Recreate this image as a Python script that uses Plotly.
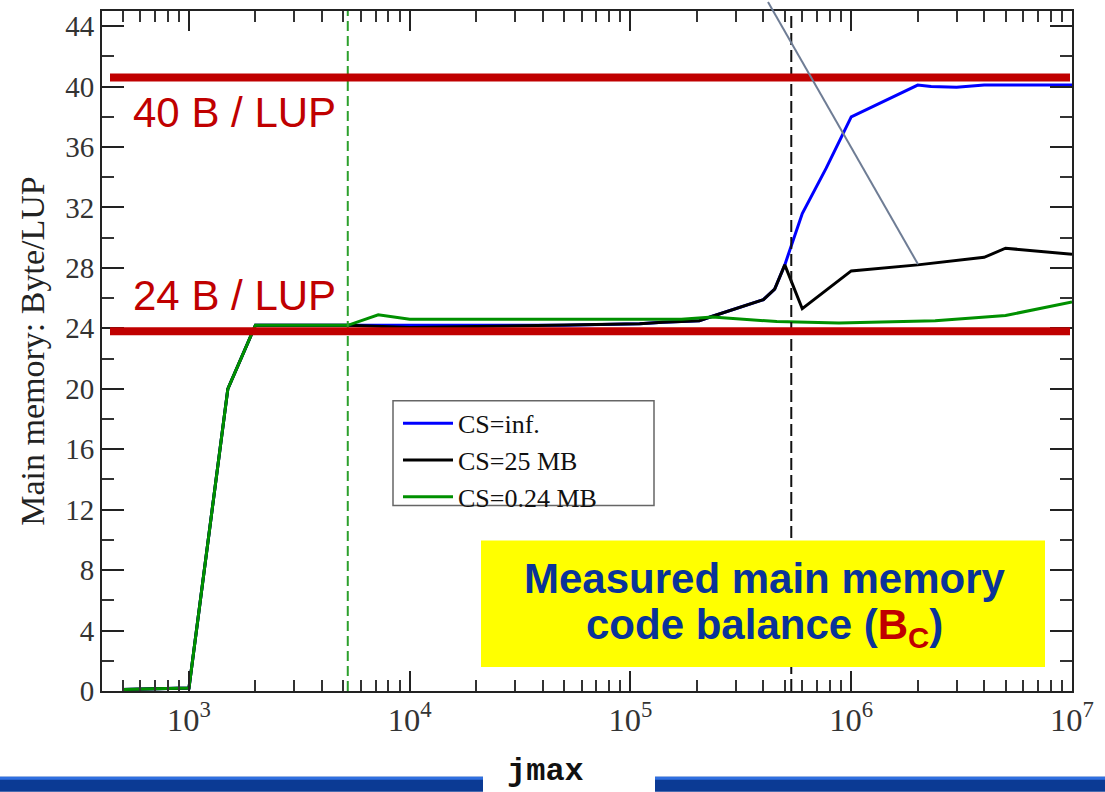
import plotly.graph_objects as go

# ---------------- data ----------------
jmax_inf = [500, 1000, 1500, 2000, 5240, 10000, 50000, 110000, 140000, 205000, 235000,
            400000, 450000, 500000, 540000, 600000, 770000, 1000000, 2000000, 2300000,
            3000000, 4000000, 10000000]
bal_inf = [0.1, 0.2, 20.0, 24.2, 24.2, 24.2, 24.2, 24.3, 24.4, 24.5, 24.8,
           25.9, 26.6, 28.2, 29.6, 31.6, 34.6, 38.0, 40.1, 40.0,
           39.95, 40.1, 40.1]

jmax_25mb = [500, 1000, 1500, 2000, 5240, 10000, 44000, 110000, 140000, 205000, 235000,
             400000, 450000, 500000, 600000, 1000000, 2000000, 4000000, 5000000, 10000000]
bal_25mb = [0.1, 0.2, 20.0, 24.2, 24.2, 24.05, 24.2, 24.3, 24.4, 24.5, 24.8,
            25.9, 26.6, 28.2, 25.3, 27.8, 28.2, 28.7, 29.3, 28.9]

jmax_024mb = [500, 1000, 1500, 2000, 5240, 7200, 10000, 170000, 235000, 460000, 880000,
              2400000, 5000000, 10000000]
bal_024mb = [0.1, 0.2, 20.0, 24.2, 24.2, 24.9, 24.6, 24.6, 24.75, 24.45, 24.35,
             24.5, 24.85, 25.75]

series_names = ["CS=inf.", "CS=25 MB", "CS=0.24 MB"]
series_colors = ["#0000ff", "#000000", "#009000"]

# reference levels and markers
level_40 = 40.6
level_24 = 23.8
level_labels = ["40 B / LUP", "24 B / LUP"]
jmax_l2 = 5240       # green dashed line
jmax_l3 = 535000     # black dashed line

y_title = "Main memory: Byte/LUP"
x_label = "jmax"

# ---------------- figure ----------------
fig = go.Figure()
for xs, ys, nm, col in zip([jmax_inf, jmax_25mb, jmax_024mb],
                           [bal_inf, bal_25mb, bal_024mb],
                           series_names, series_colors):
    fig.add_trace(go.Scatter(x=xs, y=ys, mode="lines", name=nm,
                             line=dict(color=col, width=3)))

# plot area geometry (pixels) for decorative shapes
L, R, T, B = 102, 1072, 9, 691
W, H = R - L, B - T


def px(xp):
    return (xp - L) / W


def py(yp):
    return (B - yp) / H


shapes = []
# vertical dashed lines
shapes.append(dict(type="line", xref="x", yref="paper", x0=jmax_l2, x1=jmax_l2, y0=0, y1=1,
                   line=dict(color="#2ca02c", width=2, dash="10px,5px"), layer="above"))
shapes.append(dict(type="line", xref="x", yref="paper", x0=jmax_l3, x1=jmax_l3, y0=0, y1=1,
                   line=dict(color="#111111", width=2, dash="12px,5px"), layer="above"))
# red level lines
for lv in [level_40, level_24]:
    shapes.append(dict(type="line", xref="paper", yref="y", x0=px(110), x1=px(1070), y0=lv, y1=lv,
                       line=dict(color="#c00000", width=8), layer="above"))
# pointer line
shapes.append(dict(type="line", xref="paper", yref="paper", x0=px(768), y0=py(0), x1=px(918), y1=py(263),
                   line=dict(color="#6f7d95", width=2), layer="above"))
# yellow box
shapes.append(dict(type="rect", xref="paper", yref="paper", x0=px(481), x1=px(1045), y0=py(667), y1=py(540),
                   fillcolor="#ffff00", line=dict(width=0), layer="above"))
# legend frame
shapes.append(dict(type="rect", xref="paper", yref="paper", x0=px(393), x1=px(654), y0=py(505), y1=py(400),
                   fillcolor="white", line=dict(color="#666666", width=1.5), layer="above"))
# bottom band (slide decoration)
for xa, xb in [(0, 483), (655, 1105)]:
    shapes.append(dict(type="rect", xref="paper", yref="paper", x0=px(xa), x1=px(xb), y0=py(792), y1=py(777),
                       fillcolor="#0b3a94", line=dict(width=0), layer="above"))
    shapes.append(dict(type="rect", xref="paper", yref="paper", x0=px(xa), x1=px(xb), y0=py(780), y1=py(777),
                       fillcolor="#2f6fe0", line=dict(width=0), layer="above"))

annotations = []
annotations.append(dict(xref="paper", yref="paper", x=px(131), y=py(111), xanchor="left", yanchor="middle",
                        text=level_labels[0], showarrow=False,
                        font=dict(family="Liberation Sans", size=42, color="#c00000")))
annotations.append(dict(xref="paper", yref="paper", x=px(131), y=py(294), xanchor="left", yanchor="middle",
                        text=level_labels[1], showarrow=False,
                        font=dict(family="Liberation Sans", size=42, color="#c00000")))
annotations.append(dict(xref="paper", yref="paper", x=px(764), y=py(578), xanchor="center", yanchor="middle",
                        text="<b>Measured main memory</b>", showarrow=False,
                        font=dict(family="Liberation Sans", size=42, color="#0a3399")))
annotations.append(dict(xref="paper", yref="paper", x=px(764), y=py(627), xanchor="center", yanchor="middle",
                        text="<b>code balance (<span style='color:#c00000'>B<sub>C</sub></span>)</b>",
                        showarrow=False,
                        font=dict(family="Liberation Sans", size=42, color="#0a3399")))
annotations.append(dict(xref="paper", yref="paper", x=px(545), y=py(772), xanchor="center", yanchor="middle",
                        text="<b>" + x_label + "</b>", showarrow=False,
                        font=dict(family="Liberation Mono", size=32, color="#111111")))

fig.update_layout(
    width=1105, height=792,
    margin=dict(l=L, r=1105 - R, t=T, b=792 - B),
    paper_bgcolor="white", plot_bgcolor="white",
    shapes=shapes, annotations=annotations,
    showlegend=True,
    legend=dict(x=px(398), y=py(399), xanchor="left", yanchor="top",
                bgcolor="rgba(0,0,0,0)", borderwidth=0, itemwidth=50,
                font=dict(family="Liberation Serif", size=26, color="#111111"),
                tracegroupgap=0),
)

fig.update_xaxes(type="log", range=[2.606, 7.0], dtick=1, exponentformat="power",
                 ticks="inside", ticklen=20, tickwidth=2, tickcolor="#222222",
                 showline=True, linewidth=2, linecolor="#222222", mirror="allticks",
                 showgrid=False, zeroline=False,
                 minor=dict(ticks="inside", ticklen=11, tickwidth=1.5, tickcolor="#333333",
                            dtick="D1", showgrid=False),
                 tickfont=dict(family="Liberation Serif", size=26, color="#333333"))

fig.update_yaxes(range=[0, 45], tick0=0, dtick=4,
                 ticks="inside", ticklen=22, tickwidth=2, tickcolor="#222222",
                 showline=True, linewidth=2, linecolor="#222222", mirror="allticks",
                 showgrid=False, zeroline=False,
                 minor=dict(ticks="inside", ticklen=12, tickwidth=1.5, tickcolor="#333333",
                            dtick=2, showgrid=False),
                 tickfont=dict(family="Liberation Serif", size=29, color="#333333"),
                 title=dict(text=y_title, standoff=10,
                            font=dict(family="Liberation Serif", size=34, color="#222222")))

fig.write_html("out.html", config={"displayModeBar": False},
               post_script="document.body.style.margin='0px';")
